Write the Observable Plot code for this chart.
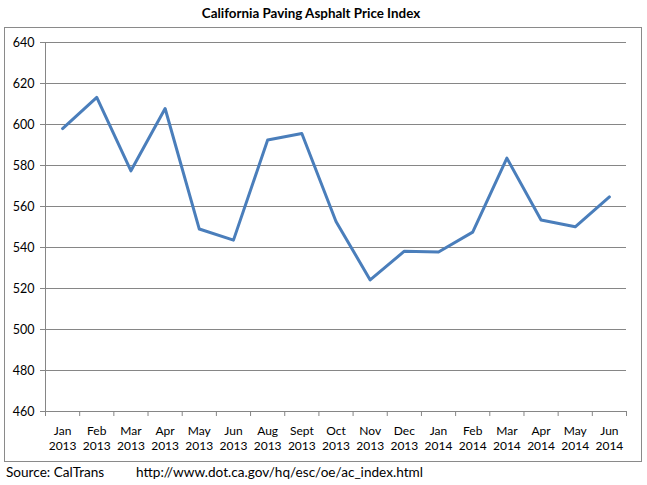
<!DOCTYPE html>
<html>
<head>
<meta charset="utf-8">
<script src="https://cdn.jsdelivr.net/npm/d3@7"></script>
<script src="https://cdn.jsdelivr.net/npm/@observablehq/plot@0.6"></script>
<style>
  body { margin: 0; background: #fff; font-family: Lato, "Open Sans", sans-serif; }
  #wrap { width: 647px; height: 485px; position: relative; }
  #title { height: 27px; width: 622px; text-align: center; font-weight: bold; font-size: 13.4px; line-height: 27px; color: #000; }
  #box { margin-left: 4px; width: 636px; height: 433px; border: 1px solid #8a8a8a; }
  #box svg { display: block; }
  #caption { position: relative; height: 22px; font-size: 13.6px; color: #000; margin-top: 2px; }
  #caption span { position: absolute; top: 0; white-space: nowrap; }
  #src { left: 6px; }
  #url { left: 136px; }
</style>
</head>
<body>
<div id="wrap">
  <div id="title">California Paving Asphalt Price Index</div>
  <div id="box"></div>
  <div id="caption"><span id="src"></span><span id="url"></span></div>
</div>
<script>
const months = ["Jan", "Feb", "Mar", "Apr", "May", "Jun", "Aug", "Sept", "Oct", "Nov", "Dec", "Jan", "Feb", "Mar", "Apr", "May", "Jun"];
const years = ["2013", "2013", "2013", "2013", "2013", "2013", "2013", "2013", "2013", "2013", "2013", "2014", "2014", "2014", "2014", "2014", "2014"];
const values = [598.0, 613.2, 577.4, 607.8, 549.0, 543.6, 592.4, 595.6, 552.7, 524.2, 538.2, 537.8, 547.5, 583.6, 553.4, 550.1, 564.7];
const yTicks = [460, 480, 500, 520, 540, 560, 580, 600, 620, 640];
const sourceText = "Source: CalTrans";
const urlText = "http://www.dot.ca.gov/hq/esc/oe/ac_index.html";

const data = values.map((v, i) => ({i: i + 0.5, v}));
const centers = months.map((m, i) => i + 0.5);
const bounds = d3.range(0, months.length + 1);

const chart = Plot.plot({
  width: 636,
  height: 433,
  marginLeft: 40,
  marginRight: 15,
  marginTop: 14,
  marginBottom: 50,
  style: {fontFamily: "Lato, 'Open Sans', sans-serif", fontSize: "12px", color: "#000", background: "#fff"},
  x: {type: "linear", domain: [0, months.length]},
  y: {domain: [460, 640]},
  marks: [
    Plot.gridY(yTicks, {stroke: "#868686", strokeOpacity: 1}),
    Plot.ruleX([0], {stroke: "#868686"}),
    Plot.axisY(yTicks, {tickSize: 5, tickPadding: 6, stroke: "#868686", fill: "#000", fontSize: 12.5, label: null}),
    Plot.axisX(bounds, {tickSize: 5, stroke: "#868686", tickFormat: () => "", label: null}),
    Plot.axisX(centers, {tickSize: 0, tickPadding: 13, lineHeight: 1.25, fill: "#000", fontSize: 12, label: null,
      tickFormat: d => months[Math.floor(d)] + "\n" + years[Math.floor(d)]}),
    Plot.line(data, {x: "i", y: "v", stroke: "#4a7ebb", strokeWidth: 3, strokeLinejoin: "round"})
  ]
});
document.getElementById("box").appendChild(chart);
document.getElementById("src").textContent = sourceText;
document.getElementById("url").textContent = urlText;
</script>
</body>
</html>
